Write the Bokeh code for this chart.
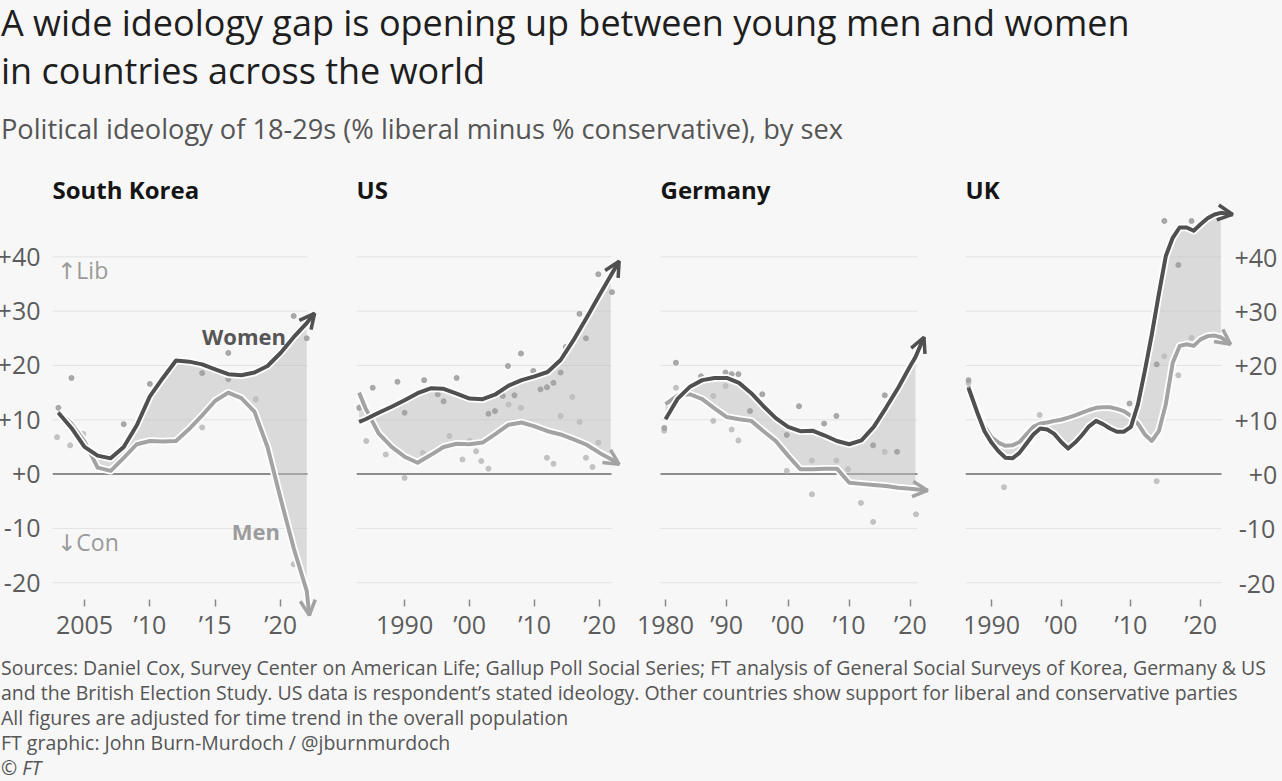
from bokeh.plotting import figure
from bokeh.models import Range1d, FixedTicker, Arrow, OpenHead, Label, Div
from bokeh.layouts import column, row
from bokeh.embed import file_html
from bokeh.resources import INLINE

# ---------------- data ----------------
title_line1 = "A wide ideology gap is opening up between young men and women"
title_line2 = "in countries across the world"
subtitle = "Political ideology of 18-29s (% liberal minus % conservative), by sex"
footer_lines = [
    "Sources: Daniel Cox, Survey Center on American Life; Gallup Poll Social Series; FT analysis of General Social Surveys of Korea, Germany &amp; US",
    "and the British Election Study. US data is respondent’s stated ideology. Other countries show support for liberal and conservative parties",
    "All figures are adjusted for time trend in the overall population",
    "FT graphic: John Burn-Murdoch / @jburnmurdoch",
]
countries = ["South Korea", "US", "Germany", "UK"]

y_ticks = [-20, -10, 0, 10, 20, 30, 40]
y_tick_labels = ["-20", "-10", "+0", "+10", "+20", "+30", "+40"]
# right-hand labels are padded so that they line up on the right
y_tick_labels_right = ["\u2009-20", "\u2009-10", "\u2007+0", "+10", "+20", "+30", "+40"]

# South Korea
sk_x_ticks = [2005, 2010, 2015, 2020]
sk_x_labels = ["2005", "’10", "’15", "’20"]
sk_years = [2003, 2004, 2005, 2006, 2007, 2008, 2009, 2010, 2011, 2012, 2013, 2014, 2015, 2016, 2017, 2018, 2019, 2020, 2021, 2022]
sk_women = [11.3, 8.5, 5.0, 3.4, 2.9, 5.0, 9.0, 14.3, 17.7, 20.9, 20.7, 20.2, 19.3, 18.4, 18.2, 18.7, 19.9, 22.3, 25.2, 27.8]
sk_men = [11.5, 9.3, 6.0, 1.2, 0.6, 3.0, 5.5, 6.1, 6.0, 6.1, 8.3, 10.8, 13.5, 15.0, 14.0, 11.5, 5.0, -4.5, -13.6, -21.5]
sk_women_tip = (2022.6, 29.6)
sk_men_tip = (2022.2, -26.0)
sk_women_dots_x = [2003.0, 2004.0, 2008.0, 2010.0, 2014.0, 2016.0, 2016.0, 2021.0, 2022.0]
sk_women_dots_y = [12.2, 17.7, 9.2, 16.6, 18.6, 22.3, 17.5, 29.1, 25.0]
sk_men_dots_x = [2002.9, 2003.9, 2004.9, 2014.0, 2018.1, 2021.0]
sk_men_dots_y = [6.8, 5.3, 7.4, 8.6, 13.8, -16.6]

# US
us_x_ticks = [1990, 2000, 2010, 2020]
us_x_labels = ["1990", "’00", "’10", "’20"]
us_years = [1983, 1984, 1986, 1988, 1990, 1992, 1994, 1996, 1998, 2000, 2002, 2004, 2006, 2008, 2010, 2012, 2014, 2016, 2018, 2020, 2021.7]
us_women = [9.6, 10.1, 11.3, 12.4, 13.6, 14.9, 15.8, 15.7, 14.8, 13.9, 13.8, 14.7, 16.3, 17.3, 18.0, 18.8, 21.0, 24.7, 28.8, 33.0, 36.5]
us_men = [15.0, 12.1, 7.5, 5.0, 3.2, 2.1, 3.5, 5.0, 5.6, 5.5, 5.8, 7.4, 9.1, 9.5, 8.8, 7.9, 7.3, 6.4, 5.4, 3.9, 2.8]
us_women_tip = (2023.0, 39.2)
us_men_tip = (2023.0, 1.8)
us_women_dots_x = [1983.0, 1985.1, 1988.9, 1990.0, 1993.0, 1995.1, 1996.0, 1998.0, 2002.9, 2003.9, 2005.1, 2005.9, 2006.9, 2007.9, 2009.8, 2010.9, 2011.9, 2012.9, 2014.0, 2014.8, 2016.9, 2017.9, 2019.8, 2021.9]
us_women_dots_y = [12.2, 15.9, 17.0, 11.3, 17.3, 14.7, 13.4, 17.7, 11.1, 11.6, 14.4, 19.9, 14.5, 22.2, 19.0, 15.6, 16.0, 16.8, 18.7, 23.4, 29.5, 25.0, 36.8, 33.5]
us_men_dots_x = [1984.1, 1987.1, 1990.0, 1992.8, 1996.9, 1998.9, 2000.0, 2001.0, 2001.8, 2002.9, 2006.0, 2007.9, 2011.9, 2012.9, 2014.0, 2015.8, 2016.9, 2017.9, 2018.9, 2019.8]
us_men_dots_y = [6.1, 3.6, -0.7, 3.9, 7.0, 2.7, 6.1, 4.2, 2.4, 1.0, 12.8, 12.2, 3.0, 1.9, 10.7, 14.2, 9.6, 3.0, 1.3, 5.8]

# Germany
de_x_ticks = [1980, 1990, 2000, 2010, 2020]
de_x_labels = ["1980", "’90", "’00", "’10", "’20"]
de_years = [1980, 1982, 1984, 1986, 1988, 1990, 1992, 1994, 1996, 1998, 2000, 2002, 2004, 2006, 2008, 2010, 2012, 2014, 2016, 2018, 2020, 2020.8]
de_women = [10.1, 13.9, 16.1, 17.3, 17.7, 17.7, 16.8, 14.9, 12.5, 10.3, 8.7, 7.9, 8.0, 7.1, 6.1, 5.5, 6.2, 8.7, 12.2, 15.9, 20.0, 21.5]
de_men = [12.9, 14.5, 14.7, 13.8, 12.1, 10.5, 10.1, 9.8, 7.9, 6.1, 3.4, 0.9, 0.9, 1.0, 1.0, -1.6, -1.8, -2.0, -2.2, -2.5, -2.7, -2.8]
de_women_tip = (2022.2, 25.2)
de_men_tip = (2022.8, -3.0)
de_women_dots_x = [1979.8, 1981.7, 1985.8, 1989.8, 1990.8, 1991.9, 1993.8, 1995.8, 1999.8, 2001.8, 2005.9, 2007.9, 2013.9, 2015.8, 2017.8]
de_women_dots_y = [8.5, 20.5, 18.0, 18.7, 18.4, 18.4, 11.6, 14.7, 7.2, 12.5, 9.3, 10.7, 5.3, 14.5, 4.1]
de_men_dots_x = [1979.8, 1981.7, 1987.8, 1987.8, 1989.8, 1990.8, 1991.9, 1999.8, 2003.9, 2003.9, 2007.9, 2009.8, 2011.9, 2013.9, 2015.8, 2020.9]
de_men_dots_y = [8.0, 15.9, 14.4, 9.8, 16.2, 8.2, 6.2, 0.6, 2.5, -3.7, 2.5, 0.9, -5.3, -8.8, 4.1, -7.4]

# UK
uk_x_ticks = [1990, 2000, 2010, 2020]
uk_x_labels = ["1990", "’00", "’10", "’20"]
uk_years = [1986.7, 1988, 1989, 1990, 1991, 1992, 1993, 1994, 1995, 1996, 1997, 1998, 1999, 2000, 2001, 2002, 2003, 2004, 2005, 2006, 2007, 2008, 2009, 2010, 2011, 2012, 2013, 2014, 2015, 2016, 2017, 2018, 2019, 2020, 2021, 2022, 2022.9]
uk_women = [15.9, 11.2, 7.9, 5.8, 4.2, 3.0, 2.9, 3.9, 5.6, 7.3, 8.4, 8.2, 7.4, 5.9, 4.7, 5.8, 7.2, 8.8, 9.8, 9.2, 8.4, 7.8, 7.8, 8.7, 12.8, 19.0, 25.7, 33.1, 40.1, 43.5, 45.4, 45.4, 44.8, 46.0, 47.1, 47.8, 48.1]
uk_men = [16.2, 11.7, 8.8, 6.8, 5.8, 5.2, 5.3, 5.9, 7.3, 8.7, 9.3, 9.5, 9.8, 10.0, 10.4, 10.8, 11.3, 11.8, 12.2, 12.3, 12.3, 12.0, 11.6, 10.7, 9.3, 7.3, 6.1, 7.9, 12.8, 20.5, 23.6, 23.9, 23.6, 24.8, 25.4, 25.5, 25.2]
uk_women_tip = (2024.6, 47.8)
uk_men_tip = (2024.3, 23.9)
uk_women_dots_x = [1986.7, 2009.8, 2013.7, 2014.8, 2016.8, 2018.7]
uk_women_dots_y = [17.3, 13.0, 20.2, 46.6, 38.5, 46.6]
uk_men_dots_x = [1986.7, 1991.8, 1996.9, 2013.7, 2014.8, 2016.8, 2018.7]
uk_men_dots_y = [16.8, -2.4, 10.9, -1.3, 21.7, 18.2, 25.1]

# ---------------- style / layout ----------------
FONT = "Open Sans"
ARROW_FONT = "Open Sans, DejaVu Sans"
BG = "#f7f7f7"
WOMEN_C = "#505050"
MEN_C = "#a3a3a3"
FILL_C = "#bdbdbd"
GRID_C = "#e2e2e2"
ZERO_C = "#6a6a6a"
AXIS_TXT = "#5c5c5c"
Y_LO, Y_HI = -31, 50
FRAME_H = 440
TICK_BASE = -24.3


def grid_lo_offset_px(x_lo, x_hi, grid_lo, frame_w):
    # title starts where the guide lines start
    return round((grid_lo - x_lo) / (x_hi - x_lo) * frame_w)


def make_panel(title, x_lo, x_hi, grid_lo, grid_hi, frame_w, b_left, b_right, xt, xl,
               years, women, men, w_tip, m_tip, wdx, wdy, mdx, mdy, yside):
    p = figure(title=title, frame_width=frame_w, frame_height=FRAME_H,
               x_range=Range1d(x_lo, x_hi), y_range=Range1d(Y_LO, Y_HI),
               output_backend="svg", toolbar_location=None,
               y_axis_location=("right" if yside == "right" else "left"),
               min_border_left=b_left, min_border_right=b_right,
               min_border_top=0, min_border_bottom=0,
               background_fill_color=BG, border_fill_color=BG,
               outline_line_color=None)
    p.title.text_font = FONT
    p.title.text_font_size = "24px"
    p.title.text_font_style = "bold"
    p.title.text_color = "#151515"
    p.title.offset = grid_lo_offset_px(x_lo, x_hi, grid_lo, frame_w)
    p.title.standoff = -7

    # x axis (drawn inside the frame, just under the -20 line)
    p.xaxis.fixed_location = TICK_BASE
    p.xaxis.ticker = FixedTicker(ticks=xt)
    p.xaxis.major_label_overrides = dict(zip(xt, xl))
    p.xaxis.axis_line_color = None
    p.xaxis.minor_tick_line_color = None
    p.xaxis.major_tick_line_color = "#8a8a8a"
    p.xaxis.major_tick_line_width = 1.5
    p.xaxis.major_tick_in = 7
    p.xaxis.major_tick_out = 0
    p.xaxis.major_label_standoff = 1
    p.xaxis.major_label_text_font = FONT
    p.xaxis.major_label_text_font_size = "25px"
    p.xaxis.major_label_text_color = AXIS_TXT

    # y axis
    labels = y_tick_labels_right if yside == "right" else y_tick_labels
    p.yaxis.ticker = FixedTicker(ticks=y_ticks)
    p.yaxis.major_label_overrides = dict(zip(y_ticks, labels))
    p.yaxis.axis_line_color = None
    p.yaxis.major_tick_line_color = None
    p.yaxis.minor_tick_line_color = None
    p.yaxis.major_label_text_font = FONT
    p.yaxis.major_label_text_font_size = "25px"
    p.yaxis.major_label_text_color = AXIS_TXT
    p.yaxis.major_label_standoff = 6 if yside == "left" else -8
    if yside is None:
        p.yaxis.visible = False

    p.xgrid.grid_line_color = None
    p.ygrid.grid_line_color = None

    # horizontal guide lines over the data span only
    nz = [t for t in y_ticks if t != 0]
    p.segment(x0=grid_lo, x1=grid_hi, y0=nz, y1=nz, line_color=GRID_C, line_width=1)
    p.segment(x0=grid_lo, x1=grid_hi, y0=[0], y1=[0], line_color=ZERO_C, line_width=1.5)

    p.varea(x=years, y1=women, y2=men, fill_color=FILL_C, fill_alpha=0.5)

    p.scatter(mdx, mdy, size=5, color="#bdbdbd", alpha=0.9)
    p.scatter(wdx, wdy, size=5, color="#a0a0a0", alpha=0.9)

    for ys, tip, c in ((men, m_tip, MEN_C), (women, w_tip, WOMEN_C)):
        lx = list(years) + [tip[0]]
        ly = list(ys) + [tip[1]]
        p.line(lx, ly, line_color="white", line_width=7.5, line_join="round")
        p.line(lx, ly, line_color=c, line_width=4, line_join="round")
        p.add_layout(Arrow(end=OpenHead(size=15, line_color=c, line_width=3.5),
                           x_start=years[-1], y_start=ys[-1], x_end=tip[0], y_end=tip[1],
                           line_color=None))
    return p


p_sk = make_panel(countries[0], 2002.55, 2023.13, 2002.55, 2022.06, 269, 50, 10, sk_x_ticks, sk_x_labels,
                  sk_years, sk_women, sk_men, sk_women_tip, sk_men_tip,
                  sk_women_dots_x, sk_women_dots_y, sk_men_dots_x, sk_men_dots_y, "left")
p_us = make_panel(countries[1], 1982.6, 2023.98, 1982.6, 2021.83, 269, 25, 4, us_x_ticks, us_x_labels,
                  us_years, us_women, us_men, us_women_tip, us_men_tip,
                  us_women_dots_x, us_women_dots_y, us_men_dots_x, us_men_dots_y, None)
p_de = make_panel(countries[2], 1974.12, 2023.43, 1979.18, 2021.14, 302, 0, 10, de_x_ticks, de_x_labels,
                  de_years, de_women, de_men, de_women_tip, de_men_tip,
                  de_women_dots_x, de_women_dots_y, de_men_dots_x, de_men_dots_y, None)
p_uk = make_panel(countries[3], 1986.27, 2025.15, 1986.27, 2023.0, 271, 24, 36, uk_x_ticks, uk_x_labels,
                  uk_years, uk_women, uk_men, uk_women_tip, uk_men_tip,
                  uk_women_dots_x, uk_women_dots_y, uk_men_dots_x, uk_men_dots_y, "right")

# annotations in the South Korea panel
lab_kw = dict(text_baseline="middle")
p_sk.add_layout(Label(x=2017.2, y=25.4, text="Women", text_align="center", text_font=FONT,
                      text_font_size="22px", text_font_style="bold", text_color="#565656", **lab_kw))
p_sk.add_layout(Label(x=2018.1, y=-10.5, text="Men", text_align="center", text_font=FONT,
                      text_font_size="22px", text_font_style="bold", text_color="#9c9c9c", **lab_kw))
p_sk.add_layout(Label(x=2002.9, y=37.6, text="↑Lib", text_align="left", text_font=ARROW_FONT,
                      text_font_size="23px", text_color="#9a9a9a", **lab_kw))
p_sk.add_layout(Label(x=2002.9, y=-12.5, text="↓Con", text_align="left", text_font=ARROW_FONT,
                      text_font_size="23px", text_color="#9a9a9a", **lab_kw))

title_div = Div(text=(f'<div style="font-family:\'{FONT}\';font-size:36px;line-height:48px;'
                      f'color:#1e1e1e;padding-top:2px;padding-left:2px;white-space:nowrap;">'
                      f'{title_line1}<br>{title_line2}</div>'),
                width=1280, height=100, styles={"background-color": BG})
sub_div = Div(text=(f'<div style="font-family:\'{FONT}\';font-size:27.2px;line-height:32px;'
                    f'color:#555555;padding-top:6px;padding-left:2px;white-space:nowrap;">{subtitle}</div>'),
              width=1280, height=62, styles={"background-color": BG})
foot_div = Div(text=(f'<div style="font-family:\'{FONT}\';font-size:19.5px;line-height:25px;'
                     f'color:#555555;padding-top:8px;padding-left:2px;white-space:nowrap;">'
                     + "<br>".join(footer_lines) + '<br>© <i>FT</i></div>'),
               width=1280, height=138, styles={"background-color": BG})

layout = column(title_div, sub_div, row(p_sk, p_us, p_de, p_uk), foot_div,
                styles={"margin": "-8px -8px -8px -6px", "background-color": BG})

open("out.html", "w").write(file_html(layout, INLINE))
